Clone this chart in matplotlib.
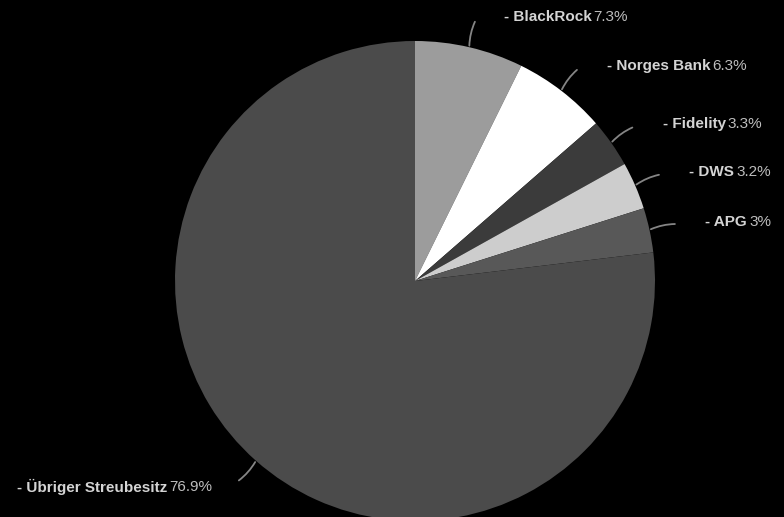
import numpy as np
import matplotlib
matplotlib.use("Agg")
import matplotlib.pyplot as plt

# Aktionärsstruktur
names = ["BlackRock", "Norges Bank", "Fidelity", "DWS", "APG", "Übriger Streubesitz"]
shares = [7.3, 6.3, 3.3, 3.2, 3.0, 76.9]
share_labels = ["7.3%", "6.3%", "3.3%", "3.2%", "3%", "76.9%"]
colors = ["#9c9c9c", "#ffffff", "#3b3b3b", "#cdcdcd", "#585858", "#4b4b4b"]

plt.rcParams['font.family'] = ['Liberation Sans', 'DejaVu Sans']

fig = plt.figure(figsize=(7.84, 5.17), dpi=100, facecolor="black")
# pie centre at about (415, 281) px, radius 240 px
ax = fig.add_axes([(415 - 240) / 784, (517 - 281 - 240) / 517, 480 / 784, 480 / 517])
ax.set_facecolor("black")

wedges, _ = ax.pie(shares, colors=colors, startangle=90, counterclock=False,
                   radius=1.0, wedgeprops=dict(linewidth=0))
ax.set_xlim(-1, 1)
ax.set_ylim(-1, 1)
ax.set_aspect("equal")
ax.axis("off")

fs = 11
for w, name, lab in zip(wedges, names, share_labels):
    ang = np.deg2rad((w.theta1 + w.theta2) / 2)
    x0, y0 = np.cos(ang), np.sin(ang)
    x1, y1 = 1.12 * x0, 1.12 * y0
    right = x0 > 0
    ax.annotate("", xy=(x1, y1), xytext=(x0 * 0.995, y0 * 0.995),
                arrowprops=dict(arrowstyle="-", color="#858585", lw=1.3,
                                connectionstyle="arc3,rad=-0.12"),
                annotation_clip=False)
    if right:
        t = ax.text(x1 + 0.115, y1 + 0.01, f"- {name}", ha="left", va="center",
                    fontsize=fs, fontweight="bold", color="#d4d4d4", clip_on=False)
        ax.annotate(lab, xy=(1, 0.5), xycoords=t, xytext=(1.5, 0),
                    textcoords="offset points", ha="left", va="center",
                    fontsize=fs, color="#bdbdbd", annotation_clip=False)
    else:
        t = ax.text(x1 - 0.1, y1 - 0.02, lab, ha="right", va="center",
                    fontsize=fs, color="#bdbdbd", clip_on=False)
        ax.annotate(f"- {name}", xy=(0, 0.5), xycoords=t, xytext=(-1.5, 0),
                    textcoords="offset points", ha="right", va="center",
                    fontsize=fs, fontweight="bold", color="#d4d4d4",
                    annotation_clip=False)

fig.savefig("out.png", dpi=100, facecolor="black")
